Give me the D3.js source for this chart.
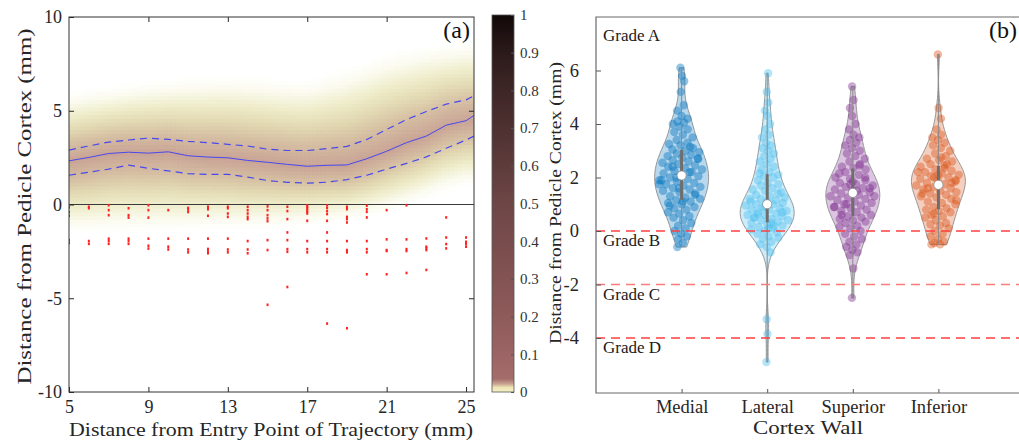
<!DOCTYPE html>
<html>
<head>
<meta charset="utf-8">
<script src="https://cdn.jsdelivr.net/npm/d3@7"></script>
<style>
  html, body { margin: 0; padding: 0; background: #fff; }
  svg { display: block; }
</style>
</head>
<body>
<svg id="chart" width="1019" height="445"></svg>
<script>

// ---- (a) cortex distance along the trajectory
const trajX = [5, 6, 7, 8, 9, 10, 11, 12, 13, 14, 15, 16, 17, 18, 19, 20, 21, 22, 23, 24, 25]
const profileX = [5, 6, 7, 8, 9, 10, 11, 12, 13, 14, 15, 16, 17, 18, 19, 20, 21, 22, 23, 24, 25, 25.4]
const meanLine = [2.33, 2.51, 2.72, 2.79, 2.74, 2.81, 2.6, 2.53, 2.49, 2.35, 2.25, 2.14, 2.04, 2.09, 2.11, 2.44, 2.84, 3.3, 3.65, 4.23, 4.47, 4.75]
const upperLine = [2.9, 3.12, 3.33, 3.44, 3.54, 3.47, 3.37, 3.3, 3.21, 3.12, 2.95, 2.88, 2.88, 2.98, 3.1, 3.47, 4.0, 4.53, 4.96, 5.35, 5.58, 5.8]
const lowerLine = [1.56, 1.72, 1.89, 2.1, 1.93, 1.79, 1.65, 1.6, 1.61, 1.46, 1.28, 1.18, 1.14, 1.19, 1.33, 1.56, 1.89, 2.19, 2.54, 3.0, 3.44, 3.65]

// visible extent of the density band, per trajectory position
const heatTop = [6.0, 6.2, 6.3, 6.45, 6.6, 6.7, 6.8, 6.85, 6.9, 6.85, 6.8, 6.7, 6.7, 7.0, 7.3, 7.7, 8.1, 8.3, 8.5, 8.6, 8.7]
const heatBottom = [-1.5, -1.5, -1.45, -1.4, -1.4, -1.4, -1.35, -1.3, -1.3, -1.3, -1.25, -1.2, -1.1, -1.0, -0.9, -0.7, -0.4, -0.1, 0.3, 0.7, 1.0]

// breaches (negative distances) at each trajectory position
const breachVals = [
    [-0.15, -0.4, -0.6, -1.9, -2.05],
    [-0.12, -0.2, -1.95, -2.1],
    [-0.04, -0.3, -0.57, -1.82, -1.95, -2.1],
    [-0.2, -0.57, -0.7, -1.82, -1.95, -2.1],
    [-0.04, -0.3, -0.7, -1.82, -2.2, -2.35],
    [-0.3, -1.82, -2.25, -2.4],
    [-0.18, -0.27, -0.4, -1.82, -2.4, -2.55],
    [-0.12, -0.25, -0.6, -1.82, -2.37, -2.5, -2.6],
    [-0.12, -0.2, -0.48, -0.66, -1.82, -2.4, -2.55],
    [-0.12, -0.3, -0.48, -0.66, -0.78, -1.95, -2.4, -2.6],
    [-0.1, -0.3, -0.57, -0.74, -0.89, -1.9, -2.43, -5.35],
    [-0.12, -0.35, -0.78, -1.49, -1.9, -2.38, -2.52, -4.4],
    [-0.04, -0.12, -0.21, -0.3, -0.39, -0.48, -0.87, -1.95, -2.38, -2.55],
    [-0.04, -0.18, -0.35, -0.51, -0.87, -1.49, -1.95, -2.38, -2.55, -6.35],
    [-0.12, -0.25, -0.66, -0.78, -0.96, -1.95, -2.43, -2.55, -6.6],
    [-0.06, -0.25, -0.39, -0.69, -1.95, -2.38, -2.55, -3.72],
    [-0.3, -1.86, -2.43, -2.48, -3.72],
    [-0.04, -1.86, -2.38, -2.48, -3.65],
    [-1.81, -2.25, -2.34, -2.43, -3.49],
    [-0.69, -1.76, -2.11, -2.34],
    [-1.76, -1.99, -2.11, -2.25]
]

const xTicksA = [5, 9, 13, 17, 21, 25]
const yTicksA = [-10, -5, 0, 5, 10]
const cbTicks = [0, 0.1, 0.2, 0.3, 0.4, 0.5, 0.6, 0.7, 0.8, 0.9, 1]

// ---- (b) distance per cortex wall
const walls = ['Medial', 'Lateral', 'Superior', 'Inferior']
const medial = [-0.6, -0.45, -0.3, -0.2, -0.1, 0.0, 0.1, 0.2, 0.3, 0.4, 0.5, 0.55, 0.65, 0.7, 0.8, 0.85, 0.9, 1.0, 1.05, 1.1,
    1.15, 1.2, 1.25, 1.3, 1.4, 1.45, 1.5, 1.55, 1.6, 1.65, 1.7, 1.75, 1.8, 1.85, 1.9, 1.95, 2.0, 2.05, 2.1, 2.15,
    2.2, 2.25, 2.3, 2.35, 2.4, 2.45, 2.5, 2.55, 2.6, 2.65, 2.7, 2.75, 2.8, 2.85, 2.9, 2.95, 3.0, 3.05, 3.1, 3.2,
    3.25, 3.3, 3.4, 3.5, 3.6, 3.7, 3.8, 3.9, 4.0, 4.05, 4.1, 4.2, 4.3, 4.5, 4.7, 5.2, 5.6, 5.8, 6.1,
    1.35, 1.6, 1.9, 2.2, 2.4, 2.7, 1.1, 0.95, 3.15, 2.0, 1.75]
const lateral = [-4.9, -3.85, -3.3, -0.8, -0.6, -0.5, -0.4, -0.3, -0.25, -0.2, -0.1, -0.05, 0.0, 0.05, 0.1, 0.15, 0.2, 0.25, 0.3, 0.35,
    0.4, 0.4, 0.45, 0.5, 0.55, 0.6, 0.6, 0.65, 0.7, 0.75, 0.8, 0.8, 0.85, 0.9, 0.95, 1.0, 1.0, 1.05, 1.1, 1.1,
    1.15, 1.2, 1.25, 1.3, 1.35, 1.4, 1.5, 1.55, 1.6, 1.7, 1.75, 1.8, 1.9, 2.0, 2.05, 2.1, 2.2, 2.3, 2.4, 2.5,
    2.6, 2.7, 2.8, 2.9, 3.0, 3.1, 3.2, 3.3, 3.5, 3.6, 3.8, 4.0, 4.3, 4.5, 4.8, 5.2, 5.9,
    0.3, 0.5, 0.7, 0.9, 1.2, 0.2, 0.65, 1.45, 0.1, 2.15]
const superior = [-2.5, -1.4, -0.9, -0.8, -0.7, -0.6, -0.5, -0.4, -0.3, -0.2, -0.1, 0.0, 0.1, 0.15, 0.2, 0.3, 0.35, 0.4, 0.45, 0.5,
    0.55, 0.6, 0.7, 0.75, 0.8, 0.85, 0.9, 0.95, 1.0, 1.05, 1.1, 1.15, 1.2, 1.25, 1.3, 1.35, 1.4, 1.45, 1.5, 1.55,
    1.6, 1.65, 1.7, 1.75, 1.8, 1.9, 1.95, 2.0, 2.1, 2.2, 2.3, 2.35, 2.4, 2.5, 2.6, 2.7, 2.8, 2.9, 3.0, 3.1,
    3.2, 3.3, 3.4, 3.5, 3.6, 3.8, 4.0, 4.3, 4.6, 4.9, 5.4,
    1.6, 1.85, 2.15, 2.45, 1.0, 1.3, 1.5, 0.6, 2.0, 1.75, 0.9]
const inferior = [-0.5, -0.5, -0.45, -0.4, -0.3, -0.2, -0.1, 0.0, 0.1, 0.2, 0.25, 0.3, 0.4, 0.5, 0.55, 0.6, 0.7, 0.75, 0.8, 0.85,
    0.9, 1.0, 1.05, 1.1, 1.2, 1.25, 1.3, 1.35, 1.4, 1.45, 1.5, 1.55, 1.6, 1.65, 1.7, 1.75, 1.8, 1.85, 1.9, 1.95,
    2.0, 2.05, 2.1, 2.15, 2.2, 2.25, 2.3, 2.4, 2.45, 2.5, 2.6, 2.65, 2.7, 2.8, 2.9, 3.0, 3.1, 3.2, 3.3, 3.4,
    3.5, 3.6, 3.8, 4.2, 4.6, 6.6,
    1.8, 2.0, 2.2, 2.35, 1.6, 1.9, 2.1, 1.4, 2.5, 0.65, 1.15, 2.75]
const wallValues = [medial, lateral, superior, inferior]
const yTicksB = [-4, -2, 0, 2, 4, 6]
const gradeLevels = [0, -2, -4]
const gradeNames = ['Grade B', 'Grade C', 'Grade D']

const wallColors = ['#0072BD', '#4DBEEE', '#7E2F8E', '#D95319']
const cmFont = 'Liberation Serif, Times New Roman, serif'

const svg = d3.select('#chart')

/* ------------------------------------------------------------ (a) */

const A = {left: 69, right: 474, top: 17, bottom: 392}
const xA = d3.scaleLinear().domain([5, 25.4]).range([A.left, A.right])
const yA = d3.scaleLinear().domain([-10, 10]).range([A.bottom, A.top])

const meanAt = d3.scaleLinear().domain(trajX).range(meanLine.slice(0, trajX.length)).clamp(true)
const topAt = d3.scaleLinear().domain(trajX).range(heatTop).clamp(true)
const botAt = d3.scaleLinear().domain(trajX).range(heatBottom).clamp(true)

const heatColor = d3.scaleLinear()
    .domain([0, 0.15, 0.35, 0.55, 0.75, 1])
    .range(['#ffffff', '#fbfbf0', '#efedcb', '#e2d9b2', '#d5bea2', '#c9a395'])
    .clamp(true)

svg.append('clipPath')
    .attr('id', 'clipA')
    .append('rect')
    .attr('x', A.left).attr('y', A.top)
    .attr('width', A.right - A.left).attr('height', A.bottom - A.top)

const step = 0.2
const cells = []
d3.range(5, 25.4, step).forEach(cx => {
    d3.range(-2, 9.4, step).forEach(cy => {
        const xm = cx + step / 2, ym = cy + step / 2
        const m = meanAt(xm)
        const t = ym >= m ? (ym - m) / (topAt(xm) - m) : (m - ym) / (m - botAt(xm))
        const v = 1 - t
        if (v > 0) cells.push({x: cx, y: cy, v: v})
    })
})

const gA = svg.append('g').attr('clip-path', 'url(#clipA)')

gA.selectAll('rect.cell')
    .data(cells)
    .join('rect')
    .attr('class', 'cell')
    .attr('x', d => xA(d.x))
    .attr('y', d => yA(d.y + step))
    .attr('width', xA(5 + step) - xA(5) + 0.6)
    .attr('height', yA(0) - yA(step) + 0.6)
    .attr('fill', d => heatColor(d.v))

gA.append('line')
    .attr('x1', A.left).attr('x2', A.right)
    .attr('y1', yA(0)).attr('y2', yA(0))
    .attr('stroke', '#3a3a3a')
    .attr('stroke-width', 1.2)

const lineA = d3.line().x((d, i) => xA(profileX[i])).y(d => yA(d))

gA.append('path')
    .attr('d', lineA(meanLine))
    .attr('fill', 'none')
    .attr('stroke', '#4848f0')
    .attr('stroke-width', 1)

gA.selectAll('path.band')
    .data([upperLine, lowerLine])
    .join('path')
    .attr('class', 'band')
    .attr('d', lineA)
    .attr('fill', 'none')
    .attr('stroke', '#4848f0')
    .attr('stroke-width', 1.2)
    .attr('stroke-dasharray', '7,5')

const breaches = []
breachVals.forEach((col, i) => col.forEach(v => breaches.push([trajX[i], v])))

gA.selectAll('rect.breach')
    .data(breaches)
    .join('rect')
    .attr('class', 'breach')
    .attr('x', d => xA(d[0]) - 1)
    .attr('y', d => yA(d[1]) - 1.3)
    .attr('width', 2)
    .attr('height', 2.6)
    .attr('fill', '#ff2020')

// axes, ticks pointing inwards on all four sides
const axA = svg.append('g')

axA.append('g')
    .attr('transform', `translate(0,${A.bottom})`)
    .call(d3.axisBottom(xA).tickValues(xTicksA).tickSize(-5).tickSizeOuter(0).tickPadding(8))
axA.append('g')
    .attr('transform', `translate(0,${A.top})`)
    .call(d3.axisTop(xA).tickValues(xTicksA.slice(1, 5)).tickSize(-5).tickSizeOuter(0).tickFormat(''))
axA.append('g')
    .attr('transform', `translate(${A.left},0)`)
    .call(d3.axisLeft(yA).tickValues(yTicksA).tickSize(-5).tickSizeOuter(0).tickPadding(7)
        .tickFormat(d => String(d)))
axA.append('g')
    .attr('transform', `translate(${A.right},0)`)
    .call(d3.axisRight(yA).tickValues([-5, 5]).tickSize(-5).tickSizeOuter(0).tickFormat(''))

axA.selectAll('.domain').remove()
axA.selectAll('.tick line').attr('stroke', '#262626')
axA.selectAll('text')
    .attr('font-family', cmFont)
    .attr('font-size', '18px')
    .attr('fill', '#262626')

svg.append('rect')
    .attr('x', A.left).attr('y', A.top)
    .attr('width', A.right - A.left).attr('height', A.bottom - A.top)
    .attr('fill', 'none')
    .attr('stroke', '#333')
    .attr('stroke-width', 1)

svg.append('text')
    .attr('font-family', cmFont)
    .attr('font-size', '18px')
    .attr('fill', '#262626')
    .attr('x', A.left)
    .attr('y', 436)
    .attr('textLength', 404)
    .attr('lengthAdjust', 'spacingAndGlyphs')
    .text('Distance from Entry Point of Trajectory (mm)')

svg.append('text')
    .attr('font-family', cmFont)
    .attr('font-size', '19px')
    .attr('fill', '#262626')
    .attr('transform', `translate(31,${(A.top + A.bottom) / 2 + 2}) rotate(-90)`)
    .attr('text-anchor', 'middle')
    .attr('textLength', 356)
    .attr('lengthAdjust', 'spacingAndGlyphs')
    .text('Distance from Pedicle Cortex (mm)')

svg.append('text')
    .attr('font-family', cmFont)
    .attr('font-size', '24px')
    .attr('fill', '#111')
    .attr('x', 470)
    .attr('y', 38)
    .attr('text-anchor', 'end')
    .text('(a)')

// colorbar
const CB = {left: 492, right: 514, top: 15, bottom: 392}
const cScale = d3.scaleLinear().domain([0, 1]).range([CB.bottom, CB.top])

const grad = svg.append('defs').append('linearGradient')
    .attr('id', 'cbGrad')
    .attr('x1', 0).attr('y1', 1).attr('x2', 0).attr('y2', 0)
grad.selectAll('stop')
    .data([[0, '#f4f1c6'], [0.012, '#eee4b6'], [0.022, '#c8a08e'], [0.035, '#a46c6a'], [0.1, '#9c6464'],
        [0.2, '#8e5a5a'], [0.5, '#6e4646'], [0.8, '#3e2626'], [0.9, '#2c1a1a'], [1, '#120808']])
    .join('stop')
    .attr('offset', d => d[0])
    .attr('stop-color', d => d[1])

svg.append('rect')
    .attr('x', CB.left).attr('y', CB.top)
    .attr('width', CB.right - CB.left).attr('height', CB.bottom - CB.top)
    .attr('fill', 'url(#cbGrad)')
    .attr('stroke', '#555')
    .attr('stroke-width', 0.8)

const cbAxis = svg.append('g')
    .attr('transform', `translate(${CB.right},0)`)
    .call(d3.axisRight(cScale).tickValues(cbTicks).tickSize(-3).tickSizeOuter(0).tickPadding(6)
        .tickFormat(d => String(+d.toFixed(1))))
cbAxis.select('.domain').remove()
cbAxis.selectAll('.tick line').attr('stroke', '#555')
cbAxis.selectAll('text')
    .attr('font-family', cmFont)
    .attr('font-size', '15px')
    .attr('fill', '#333')

/* ------------------------------------------------------------ (b) */

const B = {left: 596, right: 1024, top: 17, bottom: 393}
const xB = d3.scalePoint().domain(walls).range([B.left, B.right]).padding(1)
const yB = d3.scaleLinear().domain([-6, 8]).range([391.5, B.top])
const maxHalf = 27

function kde(values, bw, ys) {
    return ys.map(y => [y, d3.mean(values, v => Math.exp(-0.5 * ((y - v) / bw) ** 2))])
}

const gB = svg.append('g')

wallValues.forEach((vals, k) => {
    const sorted = vals.slice().sort(d3.ascending)
    const lo = sorted[0], hi = sorted[sorted.length - 1]
    const ys = d3.range(lo, hi, 0.05).concat([hi])
    const dens = kde(sorted, 0.45, ys)
    const dmax = d3.max(dens, d => d[1])
    const half = d3.scaleLinear().domain(ys).range(dens.map(d => d[1] / dmax * maxHalf))
    const cx = xB(walls[k])
    const color = wallColors[k]

    const area = d3.area()
        .y(d => yB(d[0]))
        .x0(d => cx - d[1] / dmax * maxHalf)
        .x1(d => cx + d[1] / dmax * maxHalf)
        .curve(d3.curveBasis)

    gB.append('path')
        .attr('d', area(dens))
        .attr('fill', color)
        .attr('fill-opacity', 0.28)
        .attr('stroke', '#8a8a8a')
        .attr('stroke-width', 0.9)

    gB.append('g')
        .selectAll('circle')
        .data(vals)
        .join('circle')
        .attr('cx', (d, i) => cx + (((i * 0.6180339887) % 1) * 2 - 1) * half(d) * 0.85)
        .attr('cy', d => yB(d))
        .attr('r', 4.2)
        .attr('fill', color)
        .attr('fill-opacity', 0.42)

    gB.append('line')
        .attr('x1', cx).attr('x2', cx)
        .attr('y1', yB(hi)).attr('y2', yB(lo))
        .attr('stroke', '#8a8a8a')
        .attr('stroke-width', 1)

    gB.append('line')
        .attr('x1', cx).attr('x2', cx)
        .attr('y1', yB(d3.quantile(sorted, 0.75))).attr('y2', yB(d3.quantile(sorted, 0.25)))
        .attr('stroke', '#6e6e6e')
        .attr('stroke-width', 3)

    gB.append('circle')
        .attr('cx', cx)
        .attr('cy', yB(d3.median(sorted)))
        .attr('r', 4.6)
        .attr('fill', '#fff')
        .attr('stroke', '#8a8a8a')
        .attr('stroke-width', 0.8)
})

gB.selectAll('line.grade')
    .data(gradeLevels)
    .join('line')
    .attr('class', 'grade')
    .attr('x1', B.left).attr('x2', B.right)
    .attr('y1', d => yB(d)).attr('y2', d => yB(d))
    .attr('stroke', (d, i) => i === 1 ? '#ff7a7a' : '#ff4040')
    .attr('stroke-width', 1.5)
    .attr('stroke-dasharray', '9,6')

const gradeText = svg.append('g')
    .attr('font-family', cmFont)
    .attr('font-size', '17px')
    .attr('fill', '#1a1a1a')

gradeText.append('text')
    .attr('x', 603).attr('y', 41)
    .text('Grade A')

gradeText.selectAll('text.gl')
    .data(gradeLevels)
    .join('text')
    .attr('class', 'gl')
    .attr('x', 603)
    .attr('y', d => yB(d) + 15)
    .text((d, i) => gradeNames[i])

const axB = svg.append('g')

axB.append('g')
    .attr('transform', `translate(0,${B.bottom})`)
    .call(d3.axisBottom(xB).tickSize(-4).tickSizeOuter(0).tickPadding(7))
axB.append('g')
    .attr('transform', `translate(${B.left},0)`)
    .call(d3.axisLeft(yB).tickValues(yTicksB).tickSize(-5).tickSizeOuter(0).tickPadding(17)
        .tickFormat(d => String(d)))

axB.selectAll('.domain').remove()
axB.selectAll('.tick line').attr('stroke', '#555')
axB.selectAll('text')
    .attr('font-family', cmFont)
    .attr('font-size', '18.5px')
    .attr('fill', '#262626')

svg.append('path')
    .attr('d', `M${B.right},${B.top}H${B.left}V${B.bottom}H${B.right}`)
    .attr('fill', 'none')
    .attr('stroke', '#6a6a6a')
    .attr('stroke-width', 1.2)

svg.append('text')
    .attr('font-family', cmFont)
    .attr('font-size', '19px')
    .attr('fill', '#262626')
    .attr('x', 808)
    .attr('y', 434)
    .attr('text-anchor', 'middle')
    .attr('textLength', 110)
    .attr('lengthAdjust', 'spacingAndGlyphs')
    .text('Cortex Wall')

svg.append('text')
    .attr('font-family', cmFont)
    .attr('font-size', '16.5px')
    .attr('fill', '#262626')
    .attr('transform', `translate(561,203) rotate(-90)`)
    .attr('text-anchor', 'middle')
    .attr('textLength', 282)
    .attr('lengthAdjust', 'spacingAndGlyphs')
    .text('Distance from Pedicle Cortex (mm)')

svg.append('text')
    .attr('font-family', cmFont)
    .attr('font-size', '24px')
    .attr('fill', '#111')
    .attr('x', 989)
    .attr('y', 38)
    .text('(b)')

</script>
</body>
</html>
